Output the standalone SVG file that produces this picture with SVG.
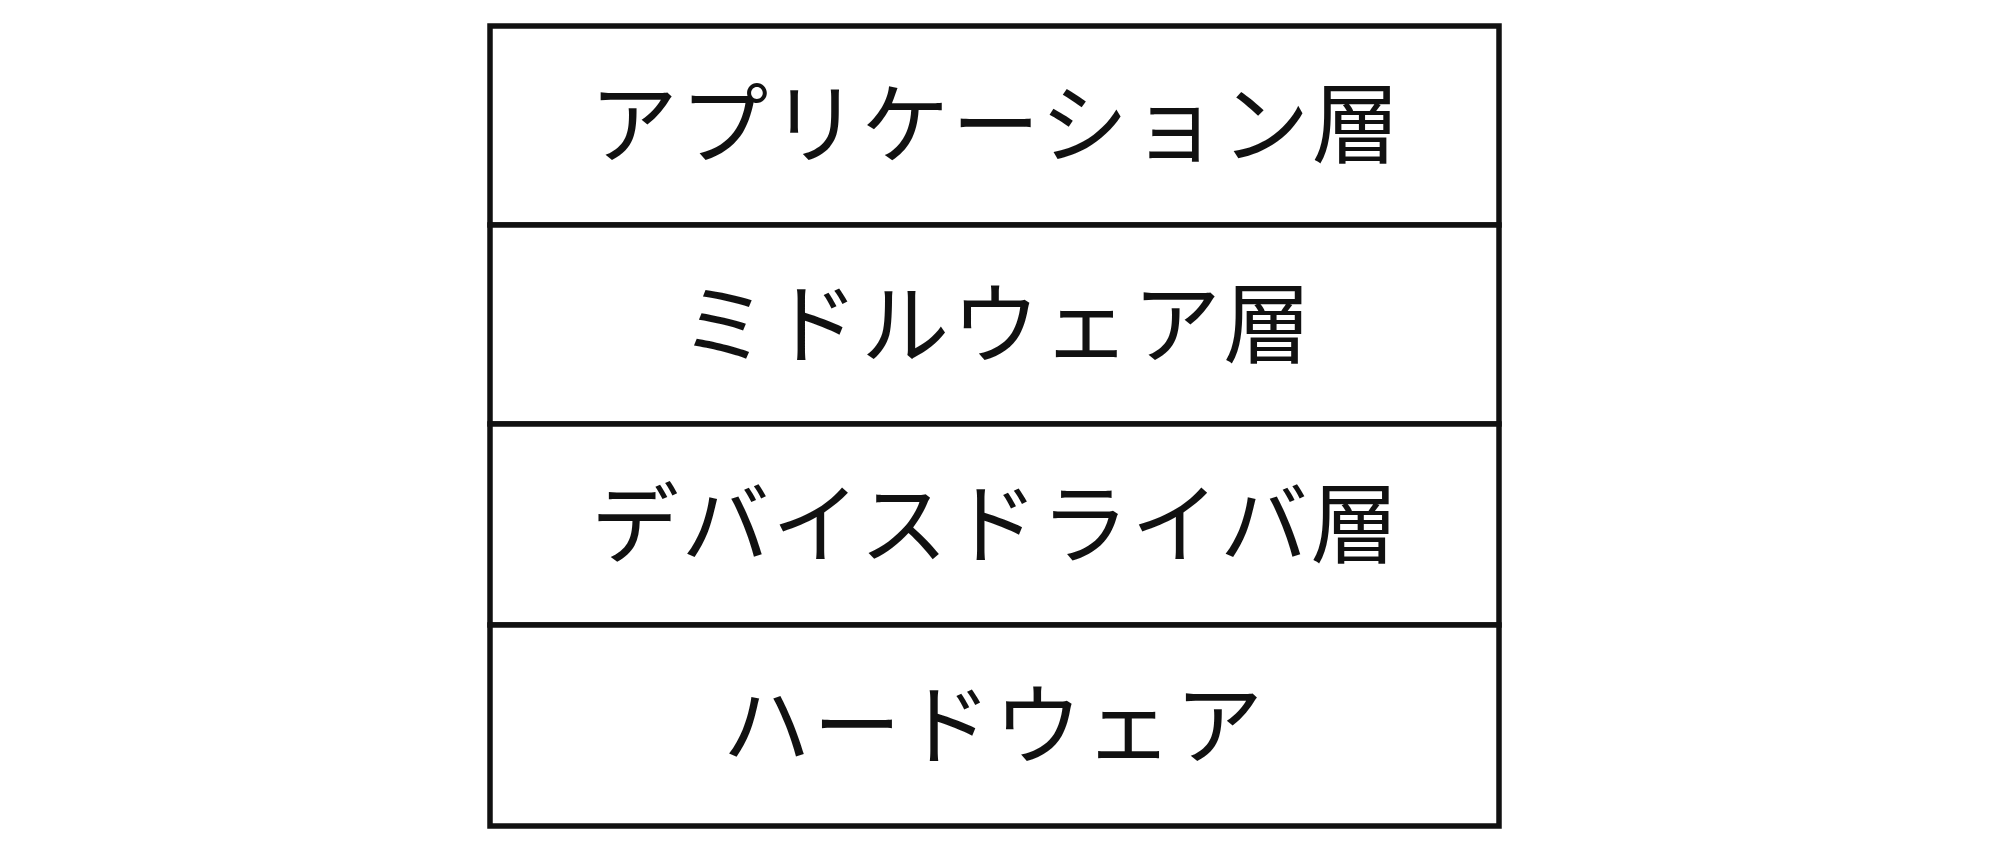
<svg xmlns="http://www.w3.org/2000/svg" width="2014" height="850" viewBox="0 0 2014 850">
<style>
.box{fill:#ffffff;stroke:#111111;stroke-width:5.5}
.lbl{font-family:"Noto Sans CJK JP","Noto Sans CJK SC",sans-serif;font-size:88px;fill:#111111;text-anchor:middle;dominant-baseline:central;letter-spacing:2.5px}
</style>
<rect width="2014" height="850" fill="#ffffff"/>
<g id="app">
<rect class="box" x="490" y="26" width="1009" height="199"/>
<text class="lbl" x="996" y="117">アプリケーション層</text>
</g>
<g id="middleware">
<rect class="box" x="490" y="225" width="1009" height="199"/>
<text class="lbl" x="997" y="317">ミドルウェア層</text>
</g>
<g id="driver">
<rect class="box" x="490" y="424" width="1009" height="201"/>
<text class="lbl" x="996" y="517">デバイスドライバ層</text>
</g>
<g id="hardware">
<rect class="box" x="490" y="625" width="1009" height="201"/>
<text class="lbl" x="994" y="718">ハードウェア</text>
</g>
<g id="connectors"></g>
</svg>
